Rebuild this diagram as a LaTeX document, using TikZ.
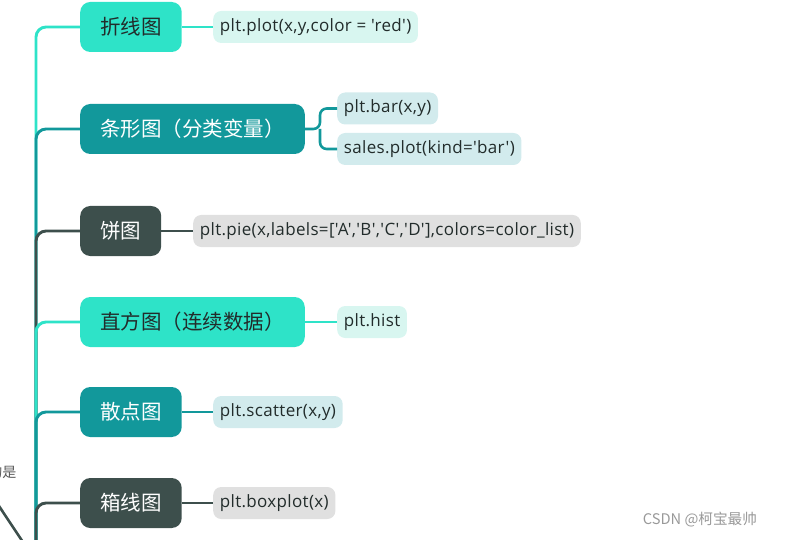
\documentclass[tikz,border=0pt]{standalone}
\usepackage{fontspec}
\setmainfont{Noto Sans CJK SC}
\newfontfamily\codefont[LetterSpace=2]{Open Sans}
\usetikzlibrary{positioning}
\definecolor{mindlight}{HTML}{2EE3C8}
\definecolor{mindteal}{HTML}{12989B}
\definecolor{minddark}{HTML}{3D4F4C}
\definecolor{leafmint}{HTML}{D8F6F0}
\definecolor{leafteal}{HTML}{D2EBED}
\definecolor{leafgrey}{HTML}{E0E0E0}
\definecolor{inkdark}{HTML}{222C2B}

\begin{document}
\begin{tikzpicture}[
    topic/.style={rectangle, rounded corners=0.3cm, anchor=west, minimum height=1.5cm,
        inner xsep=0.6cm, font=\fontsize{17.5}{20}\selectfont},
    tlight/.style={topic, fill=mindlight, text=inkdark},
    tteal/.style={topic, fill=mindteal, text=white},
    tdark/.style={topic, fill=minddark, text=white},
    code/.style={rectangle, rounded corners=0.24cm, anchor=west, minimum height=0.96cm,
        inner xsep=0.2cm, font=\codefont\fontsize{14.5}{16}\selectfont, text=inkdark},
    branch/.style={line width=2.5pt, rounded corners=0.3cm},
    twig/.style={line width=2.2pt, rounded corners=0.2cm}
]
    \clip (0,0) rectangle (24.33,-16.2);
    \useasboundingbox (0,0) rectangle (24.33,-16.2);

    % === root (off the page) ===
    \coordinate (root) at (1.08,-16.8);
    \draw[minddark, line width=2.2pt] (-0.35,-14.7) -- (0.68,-16.25) -- (-1.6,-16.25) -- cycle;
    \node[anchor=east, text=black!65, font=\fontsize{12}{14}\selectfont] (note) at (0.62,-14.15) {的是};

    % === topics ===
    \node[tlight] (t1) at (2.4,-0.81) {折线图};
    \node[tteal]  (t2) at (2.4,-3.87) {条形图（分类变量）};
    \node[tdark]  (t3) at (2.4,-6.93) {饼图};
    \node[tlight] (t4) at (2.4,-9.66) {直方图（连续数据）};
    \node[tteal]  (t5) at (2.4,-12.36) {散点图};
    \node[tdark]  (t6) at (2.4,-15.09) {箱线图};

    % === code leaves ===
    \node[code, fill=leafmint] (c1)  at (6.39,-0.81) {plt.plot(x,y,color = 'red')};
    \node[code, fill=leafteal] (c2a) at (10.11,-3.255) {plt.bar(x,y)};
    \node[code, fill=leafteal] (c2b) at (10.11,-4.47) {sales.plot(kind='bar')};
    \node[code, fill=leafgrey] (c3)  at (5.79,-6.93) {plt.pie(x,labels=['A','B','C','D'],colors=color\_list)};
    \node[code, fill=leafmint] (c4)  at (10.11,-9.66) {plt.hist};
    \node[code, fill=leafteal] (c5)  at (6.39,-12.36) {plt.scatter(x,y)};
    \node[code, fill=leafgrey] (c6)  at (6.39,-15.09) {plt.boxplot(x)};

    % --- trunk to topics ---
    \draw[branch, mindlight] (root) |- (t1.west);
    \draw[branch, mindteal]  (root) |- (t2.west);
    \draw[branch, minddark]  (root) |- (t3.west);
    \draw[branch, mindlight] (root) |- (t4.west);
    \draw[branch, mindteal]  (root) |- (t5.west);
    \draw[branch, minddark]  (root) |- (t6.west);

    % --- topics to leaves ---
    \coordinate (fork) at (9.6,-3.87);
    \draw[twig, mindlight] (t1) -- (c1);
    \draw[twig, mindteal] (t2.east) -- (fork) |- (c2a.west);
    \draw[twig, mindteal] (fork) |- (c2b.west);
    \draw[twig, minddark] (t3) -- (c3);
    \draw[twig, mindlight] (t4) -- (c4);
    \draw[twig, mindteal] (t5) -- (c5);
    \draw[twig, minddark] (t6) -- (c6);

    % --- watermark ---
    \node[text=black!40, font=\fontsize{12.5}{14}\selectfont] (mark) at (21,-15.6) {CSDN @柯宝最帅};
\end{tikzpicture}
\end{document}
